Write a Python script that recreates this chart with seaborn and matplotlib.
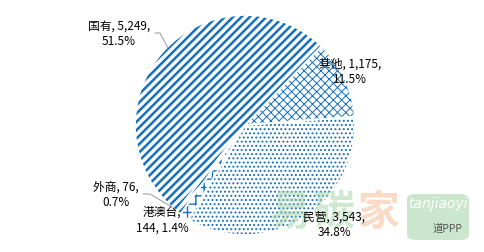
import matplotlib
matplotlib.use("Agg")
import matplotlib.pyplot as plt
import seaborn as sns
from matplotlib.patches import FancyBboxPatch

categories = ["国有", "其他", "民营", "港澳台", "外商"]
values = [5249, 1175, 3543, 144, 76]
percents = ["51.5%", "11.5%", "34.8%", "1.4%", "0.7%"]
value_labels = ["5,249", "1,175", "3,543", "144", "76"]

sns.set_theme(style="white")
plt.rcParams["font.family"] = ["Noto Sans CJK SC", "DejaVu Sans"]
plt.rcParams["hatch.linewidth"] = 1.6

BLUE = "#1570C0"
hatches = ["////", "xxxx", "....", "++", "////"]
hatch_lw = [1.8, 0.7, 0.9, 1.0, 1.8]

W, H = 484, 252
fig = plt.figure(figsize=(4.84, 2.52), dpi=100)
cx, cy, r = 245, 125, 110  # pixels, from top-left
ax = fig.add_axes([(cx - r) / W, (H - cy - r) / H, 2 * r / W, 2 * r / H])
start = 90 - 218.6

wedges, _ = ax.pie(values, startangle=start, counterclock=False)
for w, h, lw in zip(wedges, hatches, hatch_lw):
    w.set_facecolor("white")
    w.set_edgecolor(BLUE)
    w.set_linewidth(0)
    w.set_hatch(h)
    if hasattr(w, "set_hatch_linewidth"):
        w.set_hatch_linewidth(lw)

ax.pie(values, startangle=start, counterclock=False,
       wedgeprops=dict(fill=False, edgecolor="white", linewidth=1.2))
ax.set_xlim(-1, 1)
ax.set_ylim(-1, 1)
ax.axis("off")

fs = 8.5
def lab(x, y, s):
    fig.text(x / W, 1 - y / H, s, ha="center", va="center", fontsize=fs,
             color="black", linespacing=1.25, zorder=5)

lab(119, 34, f"{categories[0]}, {value_labels[0]},\n{percents[0]}")
lab(350, 72, f"{categories[1]}, {value_labels[1]},\n{percents[1]}")
lab(334, 225, f"{categories[2]}, {value_labels[2]},\n{percents[2]}")
lab(162, 220, f"{categories[3]},\n{value_labels[3]}, {percents[3]}")
lab(116, 195, f"{categories[4]}, {value_labels[4]},\n{percents[4]}")

gray = "#A6A6A6"
def leader(xs, ys):
    fig.add_artist(plt.Line2D([x / W for x in xs], [1 - y / H for y in ys],
                              color=gray, lw=0.8, zorder=4))
leader([155, 160, 168], [33, 33, 48])
leader([143, 150, 172], [194, 194, 207])

# watermark
for ch, x, col in [("易", 290, "#9fd4a3"), ("碳", 333, "#9fd4a3"), ("家", 378, "#f5b98f")]:
    fig.text(x / W, 1 - 213 / H, ch, fontsize=30, color=col, alpha=0.5,
             ha="center", va="center", fontweight="bold", zorder=3)
fig.add_artist(FancyBboxPatch((407 / W, 1 - 240 / H), 62 / W, 46 / H,
                              boxstyle="round,pad=0,rounding_size=0.02",
                              transform=fig.transFigure,
                              facecolor="#a8d8ad", edgecolor="none", alpha=0.6, zorder=3))
fig.text(438 / W, 1 - 204 / H, "tanjiaoyi", fontsize=10, color="white", ha="center",
         va="center", style="italic", zorder=4, family=["DejaVu Sans"])
fig.text(447 / W, 1 - 229 / H, "道PPP", fontsize=7.5, color="#555555", ha="center",
         va="center", zorder=4)

fig.savefig("out.png", dpi=100)
